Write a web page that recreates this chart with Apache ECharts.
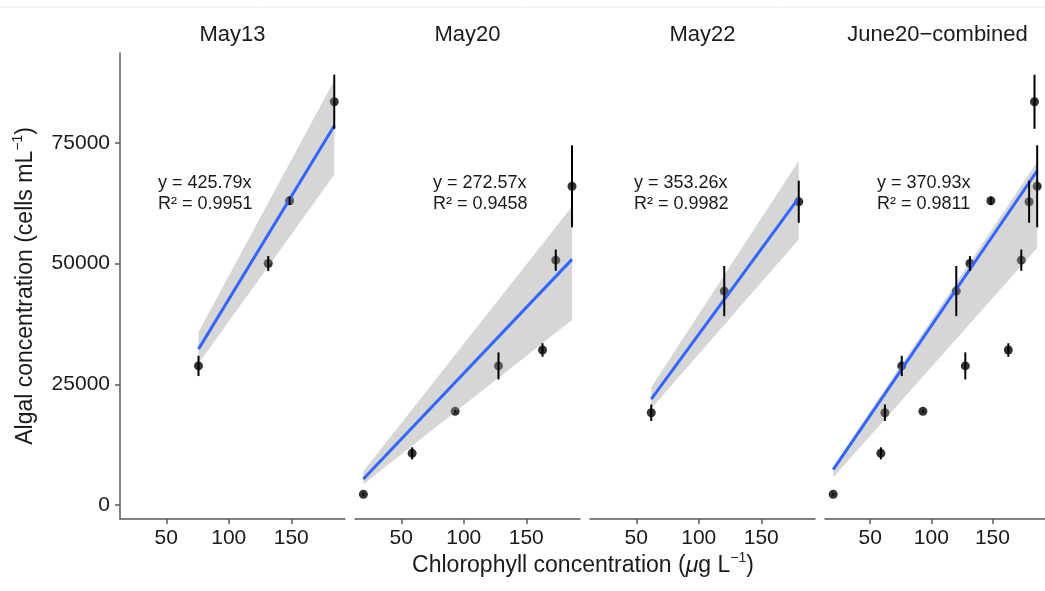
<!DOCTYPE html>
<html>
<head>
<meta charset="utf-8">
<script src="https://cdn.jsdelivr.net/npm/echarts@6/dist/echarts.min.js"></script>
<style>
  html, body { margin: 0; padding: 0; background: #ffffff; }
  #chart { width: 1045px; height: 591px; }
</style>
</head>
<body>
<div id="chart"></div>
<script>
// Facet titles
const panelTitles = ['May13', 'May20', 'May22', 'June20\u2212combined'];

// Chlorophyll (µg/L), algal concentration (cells/mL) and its error, per sampling date
const may13Chl = [75.8, 131.6, 148.7, 184.4];
const may13Algae = [28800, 50000, 63000, 83500];
const may13Err = [2100, 1550, 870, 5600];

const may20Chl = [19.7, 58.7, 93.1, 127.8, 163.0, 173.6, 186.6];
const may20Algae = [2200, 10700, 19400, 28800, 32100, 50700, 66000];
const may20Err = [200, 1250, 300, 2800, 1400, 2200, 8500];

const may22Chl = [62.0, 120.4, 180.0];
const may22Algae = [19100, 44300, 62800];
const may22Err = [1700, 5200, 4350];

// Fitted through-origin slopes and R² for each panel
const slopes = [425.79, 272.57, 353.26, 370.93];
const rSquared = [0.9951, 0.9458, 0.9982, 0.9811];

// Confidence band edges at both ends of each fit: [lowStart, highStart, lowEnd, highEnd]
const bandMay13 = [29300, 35800, 68400, 87900];
const bandMay20 = [4300, 7000, 38300, 61800];
const bandMay22 = [20000, 24400, 55000, 71300];
const bandJune20 = [5700, 7900, 53200, 71100];

// Tick labels
const xTicks = [50, 100, 150];
const yTicks = [0, 25000, 50000, 75000];

// ---- assemble panels ----
const panelData = [
  { chl: may13Chl, algae: may13Algae, err: may13Err, band: bandMay13 },
  { chl: may20Chl, algae: may20Algae, err: may20Err, band: bandMay20 },
  { chl: may22Chl, algae: may22Algae, err: may22Err, band: bandMay22 },
  {
    chl: may13Chl.concat(may20Chl, may22Chl),
    algae: may13Algae.concat(may20Algae, may22Algae),
    err: may13Err.concat(may20Err, may22Err),
    band: bandJune20
  }
];

// ---- layout ----
const FONT = '"Liberation Sans", Arial, Helvetica, sans-serif';
const TEXT = '#1a1a1a';
const AXIS = '#5a5a5a';
const gridLefts = [120, 355, 590, 825];
const gridTop = 53, gridWidth = 225, gridHeight = 466;
const noteOffsets = [38, 78, 44, 52];
const xRange = [13, 193];
const yRange = [-2900, 93600];

// raised "−1" exponent used in the axis titles
const supStyle = { fontSize: 14, fontFamily: FONT, color: TEXT, fill: TEXT, lineHeight: 20, verticalAlign: 'top' };

const grids = [], xAxes = [], yAxes = [], series = [], graphics = [];

panelData.forEach((p, i) => {
  grids.push({ left: gridLefts[i], top: gridTop, width: gridWidth, height: gridHeight });

  xAxes.push({
    gridIndex: i, type: 'value', min: xRange[0], max: xRange[1],
    splitLine: { show: false },
    axisLine: { show: true, onZero: false, lineStyle: { color: AXIS, width: 1.5 } },
    axisTick: { show: true, length: 5, lineStyle: { color: AXIS, width: 1.5 }, customValues: xTicks },
    axisLabel: { customValues: xTicks, fontSize: 21, color: TEXT, fontFamily: FONT, margin: 9 }
  });

  const first = i === 0;
  yAxes.push({
    gridIndex: i, type: 'value', min: yRange[0], max: yRange[1],
    splitLine: { show: false },
    axisLine: { show: first, onZero: false, lineStyle: { color: AXIS, width: 1.5 } },
    axisTick: { show: first, length: 5, lineStyle: { color: AXIS, width: 1.5 }, customValues: yTicks },
    axisLabel: {
      show: first, customValues: yTicks, fontSize: 21, color: TEXT, fontFamily: FONT, margin: 10,
      formatter: v => String(v)
    },
    name: first ? '{t|Algal concentration (cells mL}{sup|\u22121}{t|)}' : '',
    nameLocation: 'middle', nameRotate: 90, nameGap: 79,
    nameTextStyle: {
      fontSize: 23, color: TEXT, fontFamily: FONT,
      rich: {
        t: { fontSize: 23, fontFamily: FONT, color: TEXT, lineHeight: 30, verticalAlign: 'middle' },
        sup: supStyle
      }
    }
  });

  const pts = p.chl.map((x, k) => [x, p.algae[k], p.err[k]]);
  const xMin = Math.min(...p.chl), xMax = Math.max(...p.chl);

  // observations
  series.push({
    type: 'scatter', xAxisIndex: i, yAxisIndex: i, z: 2,
    data: pts.map(d => [d[0], d[1]]),
    symbol: 'circle', symbolSize: 9,
    itemStyle: { color: '#000000' }, silent: true
  });

  // confidence band of the fit
  series.push({
    type: 'custom', xAxisIndex: i, yAxisIndex: i, z: 3, silent: true,
    data: [[xMin, p.band[0], p.band[1], xMax, p.band[2], p.band[3]]],
    encode: { x: [0, 3], y: [1, 2, 4, 5] },
    renderItem: (params, api) => {
      const a = api.coord([api.value(0), api.value(1)]);
      const b = api.coord([api.value(0), api.value(2)]);
      const c = api.coord([api.value(3), api.value(5)]);
      const d = api.coord([api.value(3), api.value(4)]);
      return {
        type: 'polygon',
        shape: { points: [a, b, c, d] },
        style: { fill: 'rgba(153,153,153,0.4)' }
      };
    }
  });

  // fitted line y = slope * x
  series.push({
    type: 'line', xAxisIndex: i, yAxisIndex: i, z: 4, silent: true,
    data: [[xMin, slopes[i] * xMin], [xMax, slopes[i] * xMax]],
    showSymbol: false, symbol: 'none',
    lineStyle: { color: '#3366FF', width: 3 }
  });

  // error bars
  series.push({
    type: 'custom', xAxisIndex: i, yAxisIndex: i, z: 5, silent: true,
    data: pts,
    encode: { x: 0, y: 1 },
    renderItem: (params, api) => {
      const x = api.value(0), y = api.value(1), e = api.value(2);
      const lo = api.coord([x, y - e]);
      const hi = api.coord([x, y + e]);
      return {
        type: 'line',
        shape: { x1: lo[0], y1: lo[1], x2: hi[0], y2: hi[1] },
        style: { stroke: '#000000', lineWidth: 2 }
      };
    }
  });

  // facet title
  graphics.push({
    type: 'text', x: gridLefts[i] + gridWidth / 2, y: 35,
    style: { text: panelTitles[i], font: '22px ' + FONT, fill: TEXT, align: 'center', verticalAlign: 'middle' }
  });

  // fit equation
  graphics.push({
    type: 'text', x: gridLefts[i] + noteOffsets[i], y: 173,
    style: {
      text: 'y = ' + slopes[i].toFixed(2) + 'x\nR\u00b2 = ' + rSquared[i].toFixed(4),
      font: '18px ' + FONT, fill: TEXT, lineHeight: 21, align: 'left', verticalAlign: 'top'
    }
  });
});

// x axis title
graphics.push({
  type: 'text', x: 583, y: 566,
  style: {
    text: '{t|Chlorophyll concentration (}{mu|\u03bc}{t|g L}{sup|\u22121}{t|)}',
    font: '23px ' + FONT, fill: TEXT, align: 'center', verticalAlign: 'middle',
    rich: {
      t: { fontSize: 23, fontFamily: FONT, fill: TEXT, lineHeight: 30, verticalAlign: 'middle' },
      mu: { fontSize: 23, fontStyle: 'italic', fontFamily: FONT, fill: TEXT, lineHeight: 30, verticalAlign: 'middle' },
      sup: supStyle
    }
  }
});

// thin rule along the top edge
graphics.push({
  type: 'line', shape: { x1: 0, y1: 7, x2: 1045, y2: 7 },
  style: { stroke: '#ececec', lineWidth: 1 }
});

const chart = echarts.init(document.getElementById('chart'), null, { renderer: 'canvas' });
chart.setOption({
  animation: false,
  backgroundColor: '#ffffff',
  grid: grids,
  xAxis: xAxes,
  yAxis: yAxes,
  series: series,
  graphic: graphics
});
</script>
</body>
</html>
